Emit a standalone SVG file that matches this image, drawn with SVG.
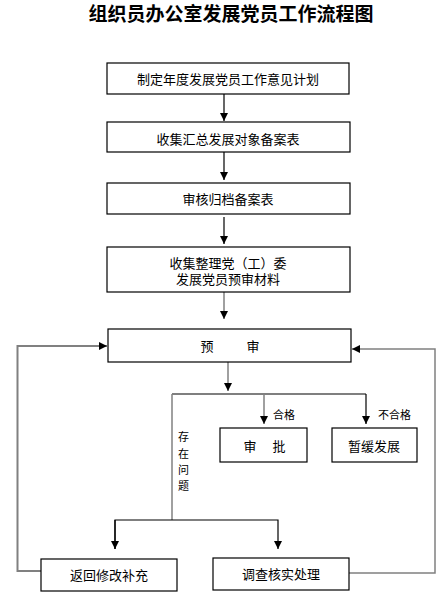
<svg xmlns="http://www.w3.org/2000/svg" width="442" height="601" viewBox="0 0 442 601">
<defs>
<marker id="ah" viewBox="0 0 10 10" refX="10" refY="5" markerWidth="8" markerHeight="8" markerUnits="userSpaceOnUse" orient="auto">
<path d="M0,0 L10,5 L0,10 z" fill="#000"/>
</marker>
</defs>
<style>
.box{fill:#fff;stroke:#000;stroke-width:1.2}
.t{font-family:"Liberation Sans","Noto Sans CJK SC",sans-serif;font-size:13px;fill:#000;text-anchor:middle;dominant-baseline:central}
.s{font-family:"Liberation Sans","Noto Sans CJK SC",sans-serif;font-size:11px;fill:#000;dominant-baseline:central}
.ln{fill:none;stroke:#000;stroke-width:1.2}
.g{fill:none;stroke:#808080;stroke-width:1.5}
.g2{fill:none;stroke:#808080;stroke-width:2}
</style>
<rect width="442" height="601" fill="#fff"/>
<text x="231" y="12" style="font-family:'Noto Sans CJK SC',sans-serif;font-size:19px;font-weight:bold;text-anchor:middle;dominant-baseline:central">组织员办公室发展党员工作流程图</text>
<g id="connectors">
<line class="ln" x1="224" y1="94" x2="224" y2="121" marker-end="url(#ah)"/>
<line class="ln" x1="224" y1="152" x2="224" y2="180" marker-end="url(#ah)"/>
<line class="ln" x1="224" y1="217" x2="224" y2="244" marker-end="url(#ah)"/>
<line class="g" x1="224" y1="292" x2="224" y2="319" marker-end="url(#ah)"/>
<line class="g" x1="228" y1="362" x2="228" y2="391" marker-end="url(#ah)"/>
<polyline class="ln" points="172,394 366,394"/>
<line class="g" x1="264" y1="394" x2="264" y2="424" marker-end="url(#ah)"/>
<line class="ln" x1="366" y1="394" x2="366" y2="424" marker-end="url(#ah)"/>
<line class="g" x1="172" y1="394" x2="172" y2="520"/>
<polyline class="ln" points="115,549 115,520 278,520 278,549" marker-end="url(#ah)"/>
<line class="ln" x1="115" y1="520" x2="115" y2="549" marker-end="url(#ah)"/>
<polyline class="g2" points="41,571 17.5,571 17.5,346 107,346" marker-end="url(#ah)"/>
<polyline class="g" points="349,573 435,573 435,349 352,349" marker-end="url(#ah)"/>
<text class="s" x="273" y="415">合格</text>
<text class="s" x="378" y="415">不合格</text>
<text class="s" x="178" y="437">存</text>
<text class="s" x="178" y="454">在</text>
<text class="s" x="178" y="470">问</text>
<text class="s" x="178" y="486">题</text>
</g>
<g id="n1"><rect class="box" x="107" y="63" width="242" height="31"/><text class="t" x="228" y="79">制定年度发展党员工作意见计划</text></g>
<g id="n2"><rect class="box" x="107" y="122" width="243" height="30"/><text class="t" x="228" y="139">收集汇总发展对象备案表</text></g>
<g id="n3"><rect class="box" x="107" y="183" width="243" height="31"/><text class="t" x="228" y="199">审核归档备案表</text></g>
<g id="n4"><rect class="box" x="107" y="247" width="243" height="45"/><text class="t" x="228" y="263">收集整理党（工）委</text><text class="t" x="228" y="279">发展党员预审材料</text></g>
<g id="n5"><rect class="box" x="108" y="329" width="243" height="33"/><text class="t" x="207" y="346">预</text><text class="t" x="253" y="346">审</text></g>
<g id="n6"><rect class="box" x="220" y="428" width="87" height="34"/><text class="t" x="250" y="446">审</text><text class="t" x="279" y="446">批</text></g>
<g id="n7"><rect class="box" x="332" y="428" width="85" height="34"/><text class="t" x="374" y="446">暂缓发展</text></g>
<g id="n8"><rect class="box" x="41" y="559" width="136" height="32"/><text class="t" x="109" y="575">返回修改补充</text></g>
<g id="n9"><rect class="box" x="213" y="558" width="136" height="32"/><text class="t" x="281" y="574">调查核实处理</text></g>
</svg>
